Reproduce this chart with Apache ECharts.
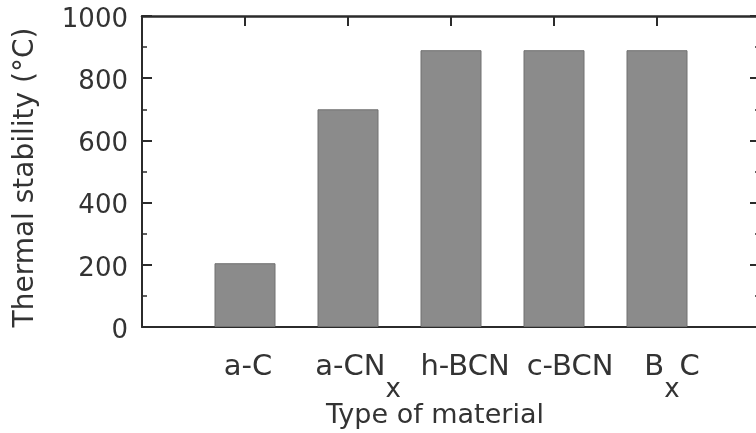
<!DOCTYPE html>
<html><head><meta charset="utf-8">
<script src="https://cdn.jsdelivr.net/npm/echarts@6/dist/echarts.min.js"></script>
<style>html,body{margin:0;padding:0;background:#fff}#c{width:756px;height:433px}</style>
</head><body><div id="c"></div>
<script>
// ---- data ----
const categories = ['a-C', 'a-CN_x', 'h-BCN', 'c-BCN', 'B_xC'];
const thermalStability = [205, 700, 890, 890, 890];
const yTickValues = [0, 200, 400, 600, 800, 1000];
const xAxisTitle = 'Type of material';
const yAxisTitle = 'Thermal stability (°C)';

// ---- layout / style ----
const labelShift = [3, 10, 14, 16, 15];
const font = 'DejaVu Sans';
const textColor = '#333';
const axisColor = '#2b2b2b';

function toRich(s) {
  if (!s) return '';
  const parts = s.split('_x');
  if (parts.length === 1) return '{n|' + s + '}';
  return parts.map(p => p ? '{n|' + p + '}' : '').join('{s|x}');
}

const axisData = [''].concat(categories.map((c, i) => ({
  value: c,
  textStyle: { padding: [0, 0, 0, labelShift[i] * 2] }
}))).concat(['']);
const seriesData = [null].concat(thermalStability).concat([null]);

const chart = echarts.init(document.getElementById('c'), null, { renderer: 'canvas' });
const yCommon = {
  type: 'value', min: yTickValues[0], max: yTickValues[yTickValues.length - 1],
  interval: yTickValues[1] - yTickValues[0],
  splitLine: { show: false },
  axisLine: { show: true, lineStyle: { color: axisColor, width: 2 } },
  axisTick: { show: true, inside: true, length: 10, lineStyle: { color: axisColor, width: 2 } },
  minorTick: { show: true, splitNumber: 2, length: 5, lineStyle: { color: axisColor, width: 1.5 } }
};
chart.setOption({
  animation: false,
  backgroundColor: '#fff',
  grid: { left: 142, right: -4, top: 16, bottom: 106, containLabel: false, outerBoundsMode: 'none' },
  xAxis: [{
    type: 'category', position: 'bottom', boundaryGap: false, data: axisData,
    axisLine: { show: true, onZero: false, lineStyle: { color: axisColor, width: 2 } },
    axisTick: { show: false },
    axisLabel: {
      interval: 0, margin: 26, color: textColor, fontFamily: font, fontSize: 29,
      formatter: v => toRich(v),
      rich: {
        n: { fontFamily: font, fontSize: 29, color: textColor, lineHeight: 30, verticalAlign: 'top' },
        s: { fontFamily: font, fontSize: 26, color: textColor, lineHeight: 30, verticalAlign: 'top', padding: [24, 0, 0, 0] }
      }
    },
    name: xAxisTitle, nameLocation: 'middle', nameGap: 75, nameMoveOverlap: false,
    nameTextStyle: { fontFamily: font, fontSize: 27, color: textColor, padding: [0, 32, 0, 0] }
  }, {
    type: 'value', position: 'top', min: 0, max: categories.length + 1, interval: 1,
    splitLine: { show: false },
    axisLine: { show: true, onZero: false, lineStyle: { color: axisColor, width: 2.5 } },
    axisTick: { show: true, inside: true, length: 10, lineStyle: { color: axisColor, width: 2 } },
    axisLabel: { show: true, formatter: () => '' }
  }],
  yAxis: [Object.assign({}, yCommon, {
    position: 'left',
    axisLabel: { fontFamily: font, fontSize: 26, color: textColor, margin: 14,
      formatter: v => '{v|' + v + '}',
      rich: { v: { fontFamily: font, fontSize: 26, color: textColor, lineHeight: 30, padding: [8, 0, 0, 0] } } },
    name: yAxisTitle, nameLocation: 'middle', nameGap: 102, nameMoveOverlap: false,
    nameTextStyle: { fontFamily: font, fontSize: 28, color: textColor, padding: [0, 12, 0, 0] }
  }), Object.assign({}, yCommon, {
    position: 'right', axisLabel: { show: false }
  })],
  series: [{
    type: 'bar', data: seriesData, barWidth: 61, xAxisIndex: 0, yAxisIndex: 0,
    itemStyle: { color: '#8b8b8b', borderColor: '#707070', borderWidth: 1 }
  }]
});
</script></body></html>
